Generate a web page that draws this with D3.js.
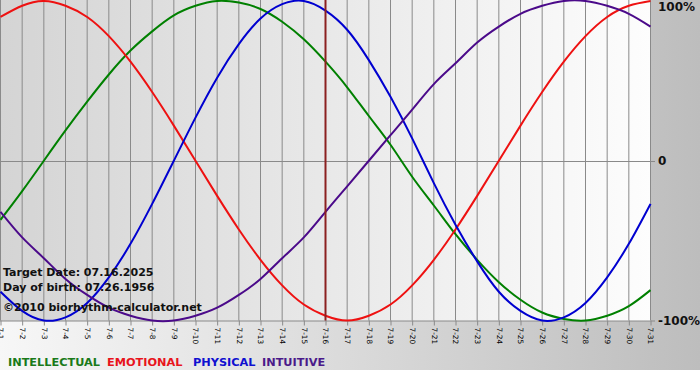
<!DOCTYPE html>
<html>
<head>
<meta charset="utf-8">
<script src="https://cdn.jsdelivr.net/npm/d3@7"></script>
<style>
  body { margin: 0; background: #fff; }
  svg { display: block; font-family: "DejaVu Sans", Verdana, sans-serif; }
</style>
</head>
<body>
<div id="chart"></div>
<script>
// days of July 2025 shown on the x axis
var days = d3.range(1, 32);
var dayLabels = days.map(function(d) { return "7-" + d; });

// values, -1 .. 1
var intellectual = [-0.37, -0.19, 0.00, 0.19, 0.37, 0.54, 0.69, 0.81, 0.91, 0.97, 1.00,
  0.99, 0.95, 0.87, 0.76, 0.62, 0.46, 0.28, 0.10, -0.10, -0.28, -0.46, -0.62, -0.76,
  -0.87, -0.95, -0.99, -1.00, -0.97, -0.91, -0.81];
var emotional = [0.90, 0.97, 1.00, 0.97, 0.90, 0.78, 0.62, 0.43, 0.22, 0.00, -0.22,
  -0.43, -0.62, -0.78, -0.90, -0.97, -1.00, -0.97, -0.90, -0.78, -0.62, -0.43, -0.22,
  0.00, 0.22, 0.43, 0.62, 0.78, 0.90, 0.97, 1.00];
var physical = [-0.82, -0.94, -1.00, -0.98, -0.89, -0.73, -0.52, -0.27, 0.00, 0.27, 0.52,
  0.73, 0.89, 0.98, 1.00, 0.94, 0.82, 0.63, 0.40, 0.14, -0.14, -0.40, -0.63, -0.82,
  -0.94, -1.00, -0.98, -0.89, -0.73, -0.52, -0.27];
var intuitive = [-0.32, -0.48, -0.61, -0.74, -0.84, -0.92, -0.97, -1.00, -1.00, -0.97, -0.92,
  -0.84, -0.74, -0.61, -0.48, -0.32, -0.16, 0.00, 0.16, 0.32, 0.48, 0.61, 0.74, 0.84,
  0.92, 0.97, 1.00, 1.00, 0.97, 0.92, 0.84];

var targetDay = 16;
var infoLines = ["Target Date: 07.16.2025", "Day of birth: 07.26.1956", "\u00a92010 biorhythm-calculator.net"];
var yTicks = [1, 0, -1];
var yTickLabels = ["100%", "0", "-100%"];

var series = [
  {name: "INTELLECTUAL", values: intellectual, color: "#008000", text: "#1a7a1a", lx: 8},
  {name: "EMOTIONAL", values: emotional, color: "#ee1111", text: "#e8141c", lx: 107},
  {name: "PHYSICAL", values: physical, color: "#0000d0", text: "#1010d0", lx: 193},
  {name: "INTUITIVE", values: intuitive, color: "#4b0a8a", text: "#4b1a8a", lx: 262}
];

var W = 700, H = 380,
    plotW = 651, plotH = 321;

var svg = d3.select("#chart")
  .append("svg")
    .attr("width", W)
    .attr("height", H);

var defs = svg.append("defs");
var g1 = defs.append("linearGradient").attr("id", "outer").attr("x1", 0).attr("x2", 1).attr("y1", 0).attr("y2", 0);
g1.append("stop").attr("offset", "0%").attr("stop-color", "#f7f7f7");
g1.append("stop").attr("offset", "100%").attr("stop-color", "#bdbdbd");
var g2 = defs.append("linearGradient").attr("id", "inner").attr("x1", 0).attr("x2", 1).attr("y1", 0).attr("y2", 0);
g2.append("stop").attr("offset", "0%").attr("stop-color", "#d4d4d4");
g2.append("stop").attr("offset", "100%").attr("stop-color", "#fdfdfd");

svg.append("rect").attr("width", W).attr("height", 370).attr("fill", "url(#outer)");
svg.append("rect").attr("width", plotW).attr("height", plotH).attr("fill", "url(#inner)");

var x = d3.scaleLinear().domain([1, 31]).range([0.5, 650.5]);
var y = d3.scaleLinear().domain([-1, 1]).range([320.5, 1]);

// vertical grid
svg.append("g")
  .selectAll("line")
  .data(days)
  .enter()
  .append("line")
    .attr("x1", function(d) { return x(d); })
    .attr("x2", function(d) { return x(d); })
    .attr("y1", 0)
    .attr("y2", y(-1))
    .attr("stroke", "#8a8a8a");

// zero line
svg.append("line")
  .attr("x1", 0).attr("x2", 655)
  .attr("y1", Math.round(y(0)) + 0.5).attr("y2", Math.round(y(0)) + 0.5)
  .attr("stroke", "#8a8a8a");

// bottom axis
var xAxis = svg.append("g")
  .attr("transform", "translate(0," + y(-1) + ")")
  .call(d3.axisBottom(x)
    .tickValues(days)
    .tickSize(5)
    .tickSizeOuter(0)
    .tickFormat(function(d, i) { return dayLabels[i]; }));
xAxis.select(".domain").attr("stroke", "#8a8a8a").attr("d", "M0,0.5H655");
xAxis.selectAll(".tick line").attr("stroke", "#8a8a8a");
xAxis.selectAll("text")
  .attr("y", 0).attr("x", 0)
  .attr("dy", "0.35em")
  .attr("transform", "translate(0,7)rotate(90)")
  .style("text-anchor", "start")
  .style("font-family", "DejaVu Sans, sans-serif")
  .style("font-size", "7.3px")
  .attr("fill", "#000");

// right labels
svg.append("g")
  .selectAll("text")
  .data(yTicks)
  .enter()
  .append("text")
    .attr("x", 658)
    .attr("y", function(d) { return d === 1 ? y(d) + 6 : y(d); })
    .attr("dy", "0.36em")
    .style("font-size", "12px")
    .style("font-weight", "bold")
    .attr("fill", "#111")
    .text(function(d, i) { return yTickLabels[i]; });

// curves
var line = d3.line()
  .x(function(v, i) { return x(days[i]); })
  .y(function(v) { return y(v); })
  .curve(d3.curveNatural);

svg.append("g")
  .selectAll("path")
  .data(series)
  .enter()
  .append("path")
    .attr("d", function(s) { return line(s.values); })
    .attr("fill", "none")
    .attr("stroke", function(s) { return s.color; })
    .attr("stroke-width", 2);

// target day marker
svg.append("line")
  .attr("x1", x(targetDay)).attr("x2", x(targetDay))
  .attr("y1", 0).attr("y2", y(-1))
  .attr("stroke", "#8b2020")
  .attr("stroke-width", 2);

// info text
svg.append("g")
  .selectAll("text")
  .data(infoLines)
  .enter()
  .append("text")
    .attr("x", 3)
    .attr("y", function(d, i) { return [276, 291, 311][i]; })
    .style("font-size", "11px")
    .style("font-weight", "bold")
    .attr("fill", "#111")
    .text(function(d) { return d; });

// legend
svg.append("g")
  .selectAll("text")
  .data(series)
  .enter()
  .append("text")
    .attr("x", function(s) { return s.lx; })
    .attr("y", 366)
    .style("font-size", "11.3px")
    .style("font-weight", "bold")
    .attr("fill", function(s) { return s.text; })
    .text(function(s) { return s.name; });
</script>
</body>
</html>
